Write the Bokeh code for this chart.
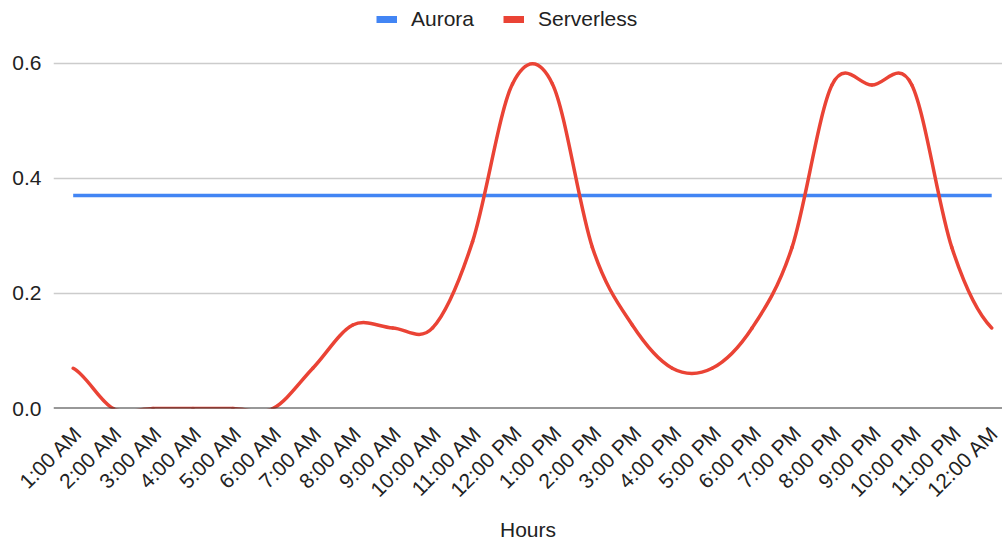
import numpy as np
from math import pi
from bokeh.plotting import figure
from bokeh.models import Range1d, FixedTicker, Span, Legend, LegendItem, NumeralTickFormatter
from bokeh.embed import file_html
from bokeh.resources import INLINE

# ---- data ----
hours = ["1:00 AM", "2:00 AM", "3:00 AM", "4:00 AM", "5:00 AM", "6:00 AM",
         "7:00 AM", "8:00 AM", "9:00 AM", "10:00 AM", "11:00 AM", "12:00 PM",
         "1:00 PM", "2:00 PM", "3:00 PM", "4:00 PM", "5:00 PM", "6:00 PM",
         "7:00 PM", "8:00 PM", "9:00 PM", "10:00 PM", "11:00 PM", "12:00 AM"]
aurora = [0.37, 0.37, 0.37, 0.37, 0.37, 0.37, 0.37, 0.37, 0.37, 0.37, 0.37, 0.37,
          0.37, 0.37, 0.37, 0.37, 0.37, 0.37, 0.37, 0.37, 0.37, 0.37, 0.37, 0.37]
serverless = [0.07, 0.0, 0.0, 0.0, 0.0, 0.0, 0.07, 0.145, 0.14, 0.14, 0.29, 0.564,
              0.564, 0.28, 0.145, 0.07, 0.07, 0.14, 0.28, 0.562, 0.562, 0.562, 0.28, 0.14]
y_ticks = [0.0, 0.2, 0.4, 0.6]

BLUE = "#4285F4"
RED = "#EA4335"
FONT = "Liberation Sans"
TXT = "#222222"

xs = list(range(len(hours)))
LABEL_SHIFT = 0.125  # small rightward nudge of the slanted tick labels

p = figure(width=1002, height=544, output_backend="svg", toolbar_location=None,
           x_range=Range1d(-0.493, 23.27), y_range=Range1d(0, 0.709),
           min_border_left=53, min_border_right=0, min_border_top=0,
           min_border_bottom=136)
p.outline_line_color = None
p.background_fill_color = "white"
p.border_fill_color = "white"

# grid
p.xgrid.grid_line_color = None
p.ygrid.grid_line_color = "#cccccc"
p.ygrid.grid_line_width = 1.5

# y axis
p.yaxis.ticker = FixedTicker(ticks=y_ticks)
p.yaxis.formatter = NumeralTickFormatter(format="0.0")
p.yaxis.axis_line_color = None
p.yaxis.major_tick_line_color = None
p.yaxis.minor_tick_line_color = None
p.yaxis.major_label_standoff = 6
p.yaxis.major_label_text_font = FONT
p.yaxis.major_label_text_font_size = "21px"
p.yaxis.major_label_text_color = TXT

# x axis
tick_pos = [x + LABEL_SHIFT for x in xs]
p.xaxis.ticker = FixedTicker(ticks=tick_pos)
p.xaxis.major_label_overrides = {t: h for t, h in zip(tick_pos, hours)}
p.xaxis.major_label_orientation = pi / 4
p.xaxis.axis_line_color = None
p.xaxis.major_tick_line_color = None
p.xaxis.minor_tick_line_color = None
p.xaxis.major_label_standoff = 15
p.xaxis.major_label_text_font = FONT
p.xaxis.major_label_text_font_size = "21px"
p.xaxis.major_label_text_color = TXT
p.xaxis.axis_label = "Hours"
p.xaxis.axis_label_text_font = FONT
p.xaxis.axis_label_text_font_size = "21px"
p.xaxis.axis_label_text_font_style = "normal"
p.xaxis.axis_label_text_color = TXT
p.xaxis.axis_label_standoff = 6

# baseline at 0
p.add_layout(Span(location=0, dimension="width", line_color="#333333", line_width=2))

# Aurora: straight line
p.line(xs, aurora, line_color=BLUE, line_width=3.5)

# Serverless: smooth curve through the points (Catmull-Rom as cubic Bezier segments)
y = serverless
n = len(y)
x0, y0, x1, y1, cx0, cy0, cx1, cy1 = [], [], [], [], [], [], [], []
for i in range(n - 1):
    pm = y[i - 1] if i > 0 else y[i]
    p1 = y[i]
    p2 = y[i + 1]
    pp = y[i + 2] if i + 2 < n else y[i + 1]
    x0.append(xs[i]); y0.append(p1)
    x1.append(xs[i + 1]); y1.append(p2)
    cx0.append(xs[i] + 1 / 3); cy0.append(p1 + (p2 - pm) / 6)
    cx1.append(xs[i] + 2 / 3); cy1.append(p2 - (pp - p1) / 6)
p.bezier(x0=x0, y0=y0, x1=x1, y1=y1, cx0=cx0, cy0=cy0, cx1=cx1, cy1=cy1,
         line_color=RED, line_width=3.5, line_cap="round")

# legend swatches (thick keys, like the reference)
leg_a = p.line([np.nan], [np.nan], line_color=BLUE, line_width=7)
leg_s = p.line([np.nan], [np.nan], line_color=RED, line_width=7)
legend = Legend(items=[LegendItem(label="Aurora", renderers=[leg_a]),
                       LegendItem(label="Serverless", renderers=[leg_s])],
                orientation="horizontal", location=(323, 377),
                glyph_width=21, glyph_height=20, label_standoff=14, spacing=29,
                padding=0, margin=0, border_line_color=None, background_fill_alpha=0,
                label_text_font=FONT, label_text_font_size="21px",
                label_text_color=TXT)
p.add_layout(legend, "center")

open("out.html", "w").write(file_html(p, INLINE))
